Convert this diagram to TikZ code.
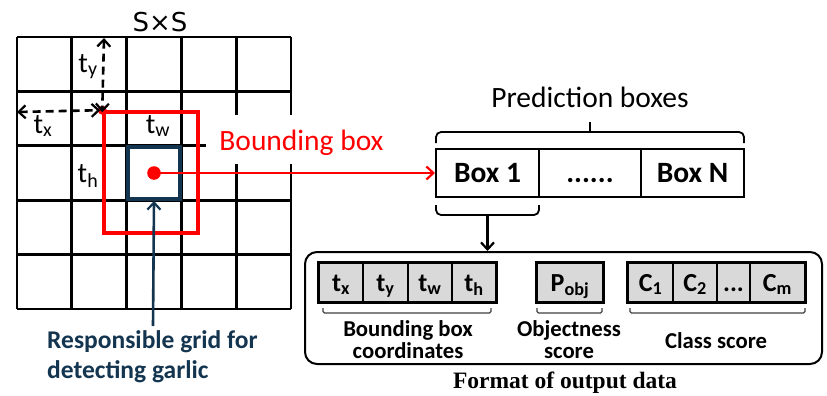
\documentclass[tikz,border=0pt]{standalone}
\usepackage{fontspec}
\setmainfont{Carlito}
\newfontfamily\dejavu{DejaVu Sans}
\newfontfamily\timesfont{Liberation Serif}
\usetikzlibrary{arrows.meta}
\definecolor{gridnavy}{HTML}{143550}
\definecolor{cellgray}{HTML}{D9D9D9}
\definecolor{pureRed}{HTML}{FF0000}
\begin{document}
\begin{tikzpicture}[x=1pt,y=-1pt,
  gridline/.style={line width=2.7pt,black},
  barb/.style={-{Straight Barb[length=7pt,width=13pt,line width=2.2pt]}},
  dbarb/.style={{Straight Barb[length=7pt,width=13pt,line width=2.2pt]}-{Straight Barb[length=7pt,width=13pt,line width=2.2pt]}},
  tlabel/.style={font=\fontsize{28.5}{30}\selectfont,inner sep=0pt,anchor=base},
  predbox/.style={draw,line width=2pt,minimum height=48pt,inner sep=0pt,
     text height=19pt,text depth=0pt,font=\bfseries\fontsize{29.5}{30}\selectfont},
  datacell/.style={draw,line width=1.4pt,fill=cellgray,minimum height=39pt,inner sep=0pt,
     text height=17pt,text depth=0pt,font=\bfseries\fontsize{26}{28}\selectfont},
  outerline/.style={line width=3.4pt},
  bracket/.style={line width=1.3pt,black!75},
  lowlabel/.style={font=\bfseries\fontsize{22.7}{21.5}\selectfont,align=center,inner sep=0pt,anchor=base},
]
\useasboundingbox (0,0) rectangle (827,396);

% grid
\foreach \x in {17,71.8,126.6,181.4,236.2,291} \draw[gridline] (\x,37) -- (\x,309);
\foreach \y in {37,91.4,145.8,200.2,254.6,309} \draw[gridline] (17,\y) -- (291,\y);
\fill[white] (206,115) rectangle (300,164);

\node[tlabel,font=\dejavu\fontsize{26}{28}\selectfont] (sxs) at (160,32) {S×S};

% bounding box and responsible cell
\node[draw=pureRed,line width=3.6pt,minimum width=94pt,minimum height=121pt,inner sep=0pt] (bbox) at (151,172.5) {};
\node[draw=gridnavy,line width=4pt,minimum width=52pt,minimum height=52pt,inner sep=0pt] (cellbox) at (154,173) {};
\coordinate (corner) at (bbox.north west);
\fill[pureRed] (corner) circle (4.5pt);
\coordinate (gtop) at (104,38);
\coordinate (gleft) at (17,112);

\draw[dbarb,line width=2.6pt,dash pattern=on 8pt off 5pt] (gtop) -- ([yshift=-2pt]corner);
\draw[dbarb,line width=2.6pt,dash pattern=on 8pt off 5pt] (gleft) -- ([xshift=-2pt]corner);

\node[tlabel] (ty) at (88,72) {t\textsubscript{y}};
\node[tlabel] (tx) at (43,133) {t\textsubscript{x}};
\node[tlabel] (tw) at (158,133) {t\textsubscript{w}};
\node[tlabel] (th) at (88,182) {t\textsubscript{h}};

\node[tlabel,font=\fontsize{29.5}{30}\selectfont,text=pureRed] (bblabel) at (301.5,150) {Bounding box};

% prediction boxes
\node[predbox,minimum width=103pt] (b1) at (487.5,173) {Box 1};
\node[predbox,minimum width=102pt] (bd) at (590,173) {......};
\node[predbox,minimum width=103pt] (bn) at (692.5,173) {Box N};
\node[tlabel,font=\fontsize{29.5}{30}\selectfont] (predlabel) at (590,107) {Prediction boxes};

\fill[pureRed] (cellbox.center) circle (6.8pt);
\draw[pureRed,line width=2.6pt,barb] (cellbox.center) -- (b1.west);

% braces
\draw[line width=1.8pt,rounded corners=5pt] (436,143) -- (436,132) -- (744,132) -- (744,143);
\draw[line width=1.8pt] (590,132) -- (590,122);
\draw[line width=1.8pt,rounded corners=5pt] (436,205) -- (436,215) -- (539,215) -- (539,205);
\coordinate (btip) at (487.5,215);

% responsible grid text
\node[font=\bfseries\fontsize{25.5}{30}\selectfont,text=gridnavy,align=left,anchor=base west,inner sep=0pt] (resp) at (47,378) {Responsible grid for\\detecting garlic};
\draw[gridnavy,line width=2.6pt,barb] (153,326) -- (cellbox.south);

% output format
\node[draw,line width=2pt,rounded corners=12pt,minimum width=517pt,minimum height=112pt,inner sep=0pt] (fmt) at (563.5,308) {};
\draw[line width=2.2pt,barb] (btip) -- (btip |- fmt.north);

\node[datacell,minimum width=44pt] (ctx) at (341,282.5) {t\textsubscript{x}};
\node[datacell,minimum width=45pt] (cty) at (385.5,282.5) {t\textsubscript{y}};
\node[datacell,minimum width=44pt] (ctw) at (430,282.5) {t\textsubscript{w}};
\node[datacell,minimum width=44pt] (cth) at (474,282.5) {t\textsubscript{h}};
\draw[outerline] (ctx.north west) rectangle (cth.south east);

\node[datacell,minimum width=66pt] (cp) at (570,282.5) {P\textsubscript{obj}};
\draw[outerline] (cp.north west) rectangle (cp.south east);

\node[datacell,minimum width=45pt] (c1) at (650.5,282.5) {C\textsubscript{1}};
\node[datacell,minimum width=44pt] (c2) at (695,282.5) {C\textsubscript{2}};
\node[datacell,minimum width=33pt] (cdd) at (733.5,282.5) {...};
\node[datacell,minimum width=55pt] (cm) at (777.5,282.5) {C\textsubscript{m}};
\draw[outerline] (c1.north west) rectangle (cm.south east);

\draw[bracket,rounded corners=1.5pt] (323,308) -- (323,313) -- (491,313) -- (491,308);
\draw[bracket,rounded corners=1.5pt] (537,308) -- (537,313) -- (602,313) -- (602,308);
\draw[bracket,rounded corners=1.5pt] (630,308) -- (630,313) -- (805,313) -- (805,308);

\node[lowlabel] (lbb) at (408,358) {Bounding box\\coordinates};
\node[lowlabel] (lobj) at (569,358) {Objectness\\score};
\node[lowlabel] (lcls) at (716,348) {Class score};

\node[font=\timesfont\bfseries\fontsize{23.5}{24}\selectfont,inner sep=0pt,anchor=base] (cap) at (565,388) {Format of output data};
\end{tikzpicture}
\end{document}
